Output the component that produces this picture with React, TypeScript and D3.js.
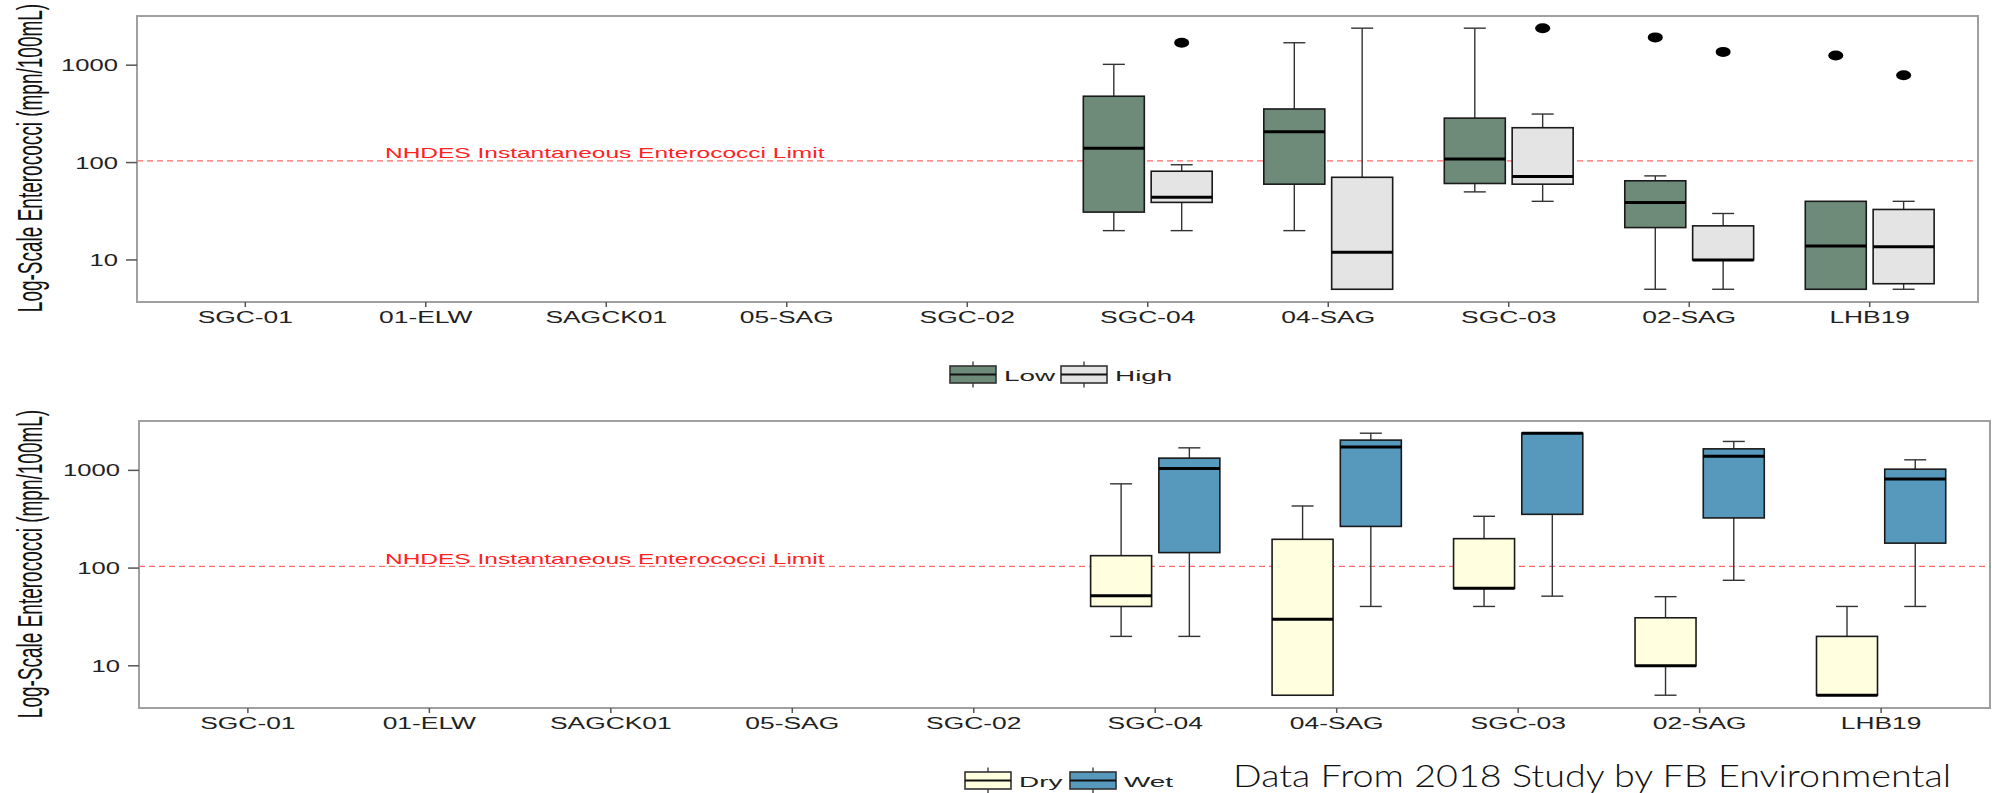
import React from 'react';
import * as d3 from 'd3';

const sites = ['SGC-01', '01-ELW', 'SAGCK01', '05-SAG', 'SGC-02', 'SGC-04', '04-SAG', 'SGC-03', '02-SAG', 'LHB19'];
const yTicks = [10, 100, 1000];
const limitValue = 104;
const limitLabel = 'NHDES Instantaneous Enterococci Limit';
const yTitle = 'Log-Scale Enterococci (mpn/100mL)';

// [min, q1, median, q3, max]; null = no samples at that site
type Stats = [number, number, number, number, number] | null;

const lowStats: Stats[] = [null, null, null, null, null,
  [20, 31, 140, 480, 1020], [20, 60, 207, 355, 1700], [50, 61, 109, 286, 2400], [5, 21.5, 39, 65, 73], [5, 5, 13.9, 40, 40]];
const highStats: Stats[] = [null, null, null, null, null,
  [20, 39, 44, 81.5, 95], [5, 5, 12, 70.6, 2400], [40, 60, 72, 228, 315], [5, 10, 10, 22.4, 30], [5, 5.7, 13.7, 33, 40]];
const lowOutliers: number[][] = [[], [], [], [], [], [], [], [], [1930], [1260]];
const highOutliers: number[][] = [[], [], [], [], [], [1700], [], [2400], [1370], [790]];

const dryStats: Stats[] = [null, null, null, null, null,
  [20, 40.5, 52, 134, 728], [5, 5, 30, 197, 432], [40.5, 62, 62, 200, 339], [5, 10, 10, 31, 51], [5, 5, 5, 20, 40.5]];
const wetStats: Stats[] = [null, null, null, null, null,
  [20, 144, 1045, 1334, 1700], [40.5, 267, 1730, 2040, 2400], [51.6, 355, 2400, 2400, 2400], [75, 326, 1396, 1660, 1977], [40.5, 180, 818, 1028, 1282]];
const noOutliers: number[][] = sites.map(() => []);

const FONT = '"Liberation Sans", Arial, sans-serif';

// the source figure was stretched sideways, so text is widened to match
const SText = ({ x, y, sx = 1.65, children, ...rest }: any) => (
  <text transform={`translate(${x},${y}) scale(${sx},1)`} fontFamily={FONT} {...rest}>{children}</text>
);

const Box = ({ cx, stats, outliers, fill, y }: any) => {
  const w = 61, cap = 22;
  const els: any[] = [];
  if (stats) {
    const [mn, q1, md, q3, mx] = stats;
    els.push(<line key="wu" x1={cx} x2={cx} y1={y(q3)} y2={y(mx)} stroke="#333" strokeWidth={1.4} />);
    els.push(<line key="wl" x1={cx} x2={cx} y1={y(q1)} y2={y(mn)} stroke="#333" strokeWidth={1.4} />);
    if (mx > q3) els.push(<line key="cu" x1={cx - cap / 2} x2={cx + cap / 2} y1={y(mx)} y2={y(mx)} stroke="#333" strokeWidth={1.4} />);
    if (mn < q1) els.push(<line key="cl" x1={cx - cap / 2} x2={cx + cap / 2} y1={y(mn)} y2={y(mn)} stroke="#333" strokeWidth={1.4} />);
    els.push(<rect key="b" x={cx - w / 2} y={y(q3)} width={w} height={Math.max(0, y(q1) - y(q3))} fill={fill} stroke="#1a1a1a" strokeWidth={1.6} />);
    els.push(<line key="m" x1={cx - w / 2} x2={cx + w / 2} y1={y(md)} y2={y(md)} stroke="#000" strokeWidth={3} />);
  }
  outliers.forEach((o: number, i: number) => els.push(<ellipse key={'o' + i} cx={cx} cy={y(o)} rx={7.5} ry={5} fill="#000" />));
  return <g>{els}</g>;
};

const LegendKey = ({ x, cy, fill }: any) => (
  <g>
    <line x1={x + 23} x2={x + 23} y1={cy - 13} y2={cy + 13} stroke="#333" strokeWidth={1.3} />
    <rect x={x} y={cy - 8.5} width={46} height={17} fill={fill} stroke="#333" strokeWidth={1.6} />
    <line x1={x} x2={x + 46} y1={cy} y2={cy} stroke="#111" strokeWidth={1.8} />
  </g>
);

const Panel = ({ left, right, top, bottom, labelY, titleY, limitDy, series, legend }: any) => {
  const x = d3.scalePoint<string>().domain(sites).range([left, right]).padding(0.6);
  const y = d3.scaleLog().domain([3.7, 3200]).range([bottom, top]);
  const off = x.step() * 0.188;
  return (
    <g>
      <rect x={left} y={top} width={right - left} height={bottom - top} fill="#fff" stroke="#a0a0a0" strokeWidth={2} />
      <line x1={left} x2={right} y1={y(limitValue)} y2={y(limitValue)} stroke="#ff6a6a" strokeWidth={1.3} strokeDasharray="6,4" />
      <SText x={385} y={y(limitValue) + limitDy} sx={1.75} fontSize={14} fill="#ff2222">{limitLabel}</SText>
      {sites.map((s, i) => (
        <g key={s}>
          <Box cx={x(s)! - off} stats={series[0].stats[i]} outliers={series[0].out[i]} fill={series[0].fill} y={y} />
          <Box cx={x(s)! + off} stats={series[1].stats[i]} outliers={series[1].out[i]} fill={series[1].fill} y={y} />
          <line x1={x(s)} x2={x(s)} y1={bottom} y2={bottom + 5} stroke="#555" strokeWidth={1.5} />
          <SText x={x(s)} y={labelY} fontSize={16} textAnchor="middle" fill="#222">{s}</SText>
        </g>
      ))}
      {yTicks.map(t => (
        <g key={t}>
          <line x1={left - 11} x2={left} y1={y(t)} y2={y(t)} stroke="#555" strokeWidth={1.5} />
          <SText x={left - 19} y={y(t) + 6} sx={1.6} fontSize={16} textAnchor="end" fill="#222">{d3.format('d')(t)}</SText>
        </g>
      ))}
      <text transform={`translate(42,${titleY}) scale(1.85,1) rotate(-90)`} fontFamily={FONT} fontSize={19} textAnchor="middle" fill="#111">{yTitle}</text>
      {legend.items.map((it: any, i: number) => (
        <g key={it.name}>
          <LegendKey x={it.x} cy={legend.cy} fill={series[i].fill} />
          <SText x={it.x + 54} y={legend.cy + 6} sx={1.8} fontSize={15.5} fill="#222">{it.name}</SText>
        </g>
      ))}
    </g>
  );
};

export default function App() {
  return (
    <svg width={1992} height={793} style={{ position: 'absolute', left: 0, top: 0, background: '#fff' }}>
      <rect width={1992} height={793} fill="#fff" />
      <Panel left={137} right={1978} top={16} bottom={302} labelY={323} titleY={158} limitDy={-2.5}
        series={[{ stats: lowStats, out: lowOutliers, fill: '#6e8b7a' }, { stats: highStats, out: highOutliers, fill: '#e4e4e4' }]}
        legend={{ cy: 374.5, items: [{ name: 'Low', x: 950 }, { name: 'High', x: 1061 }] }} />
      <Panel left={139} right={1990} top={421} bottom={708} labelY={729} titleY={564} limitDy={-2.5}
        series={[{ stats: dryStats, out: noOutliers, fill: '#ffffe0' }, { stats: wetStats, out: noOutliers, fill: '#5699bd' }]}
        legend={{ cy: 780.5, items: [{ name: 'Dry', x: 965 }, { name: 'Wet', x: 1070 }] }} />
      <text x={1233} y={787} fontFamily="Lato, 'Open Sans', sans-serif" fontWeight={300} fontSize={31} fill="#111" textLength={718} lengthAdjust="spacingAndGlyphs">Data From 2018 Study by FB Environmental</text>
    </svg>
  );
}
